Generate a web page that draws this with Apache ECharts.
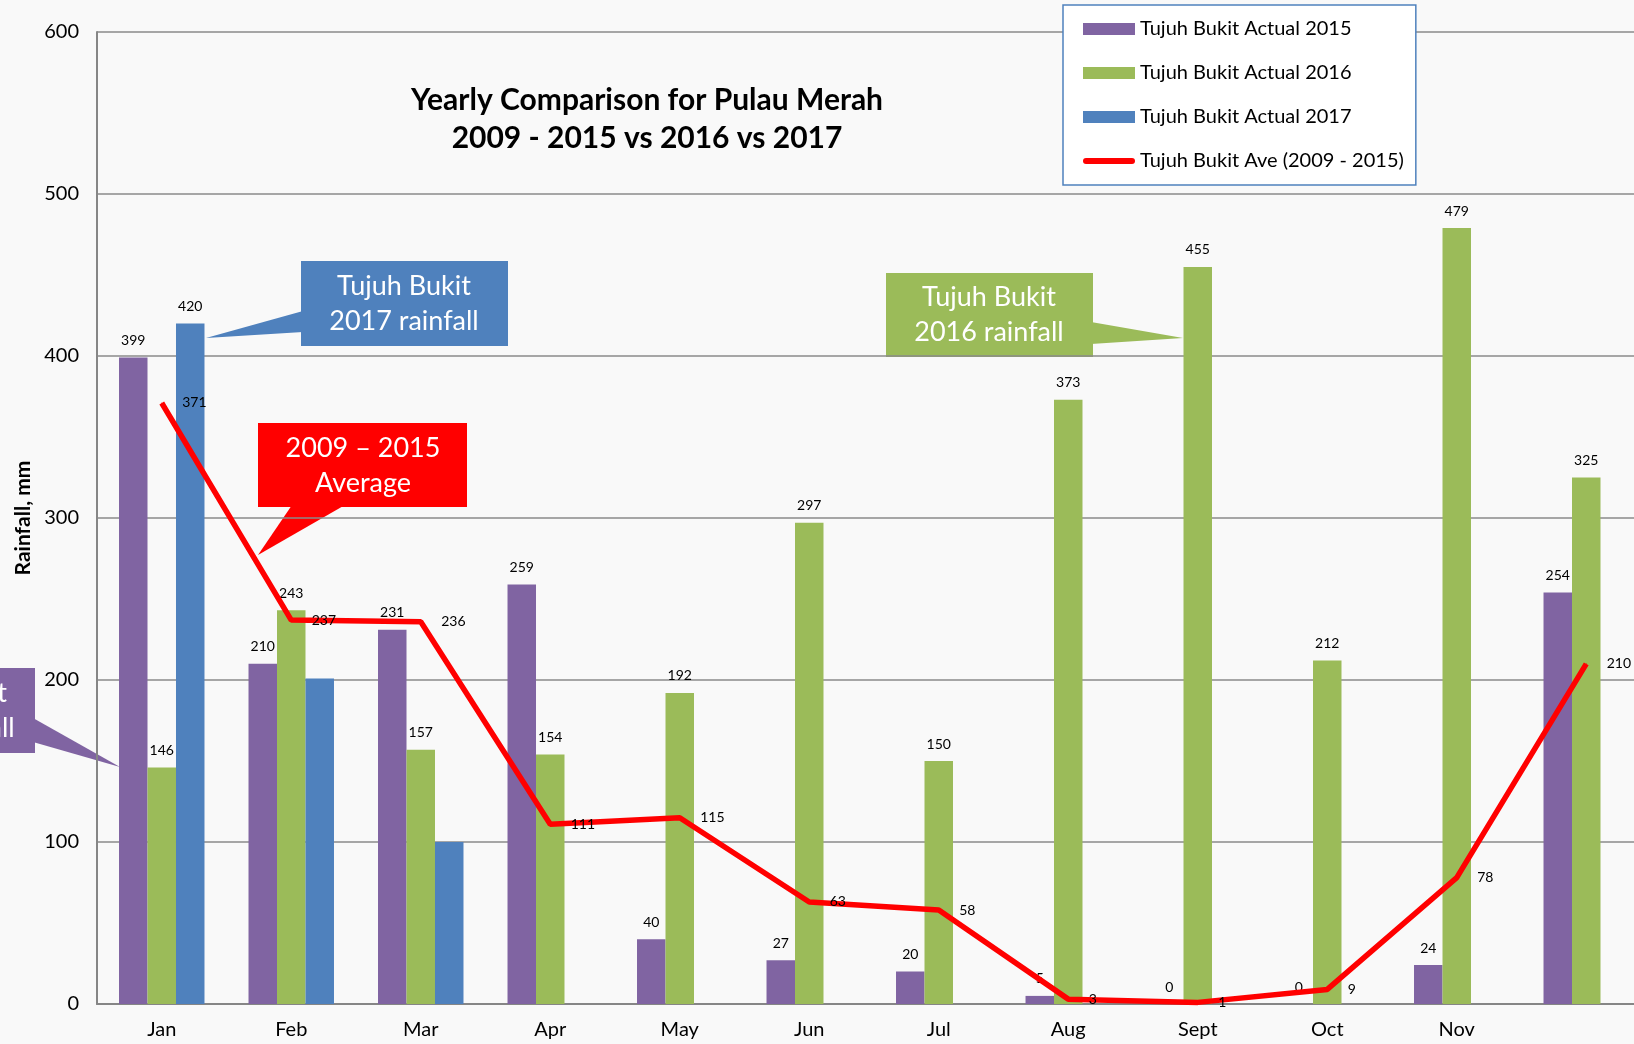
<!DOCTYPE html>
<html>
<head>
    <meta charset="utf-8">
    <title>Yearly Comparison for Pulau Merah</title>
    <script src="https://cdn.jsdelivr.net/npm/echarts@6/dist/echarts.min.js"></script>
    <style>
        html, body { margin: 0; padding: 0; background: #f9f9f9; }
    </style>
</head>
<body>
    <div id="main" style="width: 1634px;height:1044px;"></div>

    <script type="text/javascript">
        // data
        var months = ['Jan', 'Feb', 'Mar', 'Apr', 'May', 'Jun', 'Jul', 'Aug', 'Sept', 'Oct', 'Nov', 'Dec'];
        var actual2015 = [399, 210, 231, 259, 40, 27, 20, 5, 0, 0, 24, 254];
        var actual2016 = [146, 243, 157, 154, 192, 297, 150, 373, 455, 212, 479, 325];
        var actual2017 = [420, 201, 100, null, null, null, null, null, null, null, null, null];
        var label2017 = [true, false, false];
        var ave0915 = [371, 237, 236, 111, 115, 63, 58, 3, 1, 9, 78, 210];
        var yTicks = [0, 100, 200, 300, 400, 500, 600];

        var font = 'Lato, "Open Sans", sans-serif';
        var myChart = echarts.init(document.getElementById('main'));

        var barLabel = {
            show: true, position: 'top', distance: 10,
            color: '#000', fontSize: 14, fontFamily: font
        };

        // callout boxes (annotations)
        function callout(box, tri, color, lines, cx, cy) {
            return {
                type: 'group',
                children: [
                    { type: 'polygon', shape: { points: tri }, style: { fill: color } },
                    { type: 'rect', shape: box, style: { fill: color } },
                    {
                        type: 'text', x: cx, y: cy,
                        style: {
                            text: lines, fill: '#fff', font: '27px ' + font,
                            align: 'center', verticalAlign: 'middle', lineHeight: 35
                        }
                    }
                ]
            };
        }

        option = {
            backgroundColor: '#f9f9f9',
            title: {
                text: 'Yearly Comparison for Pulau Merah\n2009 - 2015 vs 2016 vs 2017',
                left: 642,
                top: 76,
                textAlign: 'center',
                textStyle: { fontFamily: font, fontSize: 30, fontWeight: 'bold', color: '#000', lineHeight: 38 }
            },
            legend: {
                orient: 'vertical',
                left: 1063,
                top: 5,
                padding: [14, 12, 14, 20],
                itemGap: 24,
                itemWidth: 52,
                itemHeight: 12,
                backgroundColor: '#fff',
                borderColor: '#4f81bd',
                borderWidth: 1.5,
                borderRadius: 0,
                textStyle: { fontFamily: font, fontSize: 20, color: '#000' },
                data: [
                    { name: 'Tujuh Bukit Actual 2015', icon: 'rect' },
                    { name: 'Tujuh Bukit Actual 2016', icon: 'rect' },
                    { name: 'Tujuh Bukit Actual 2017', icon: 'rect' },
                    { name: 'Tujuh Bukit Ave (2009 - 2015)', icon: 'path://M3,0 L49,0 A3,3 0 0 1 49,6 L3,6 A3,3 0 0 1 3,0 Z' }
                ]
            },
            grid: { left: 97, right: -17, top: 32, bottom: 40, outerBoundsMode: 'none' },
            xAxis: {
                type: 'category',
                data: months,
                axisLine: { lineStyle: { color: '#868686', width: 2 } },
                axisTick: { show: false },
                axisLabel: {
                    color: '#000', fontSize: 20, fontFamily: font, margin: 16,
                    interval: function (i) { return i < 11; }
                }
            },
            yAxis: {
                type: 'value',
                min: yTicks[0],
                max: yTicks[yTicks.length - 1],
                interval: 100,
                name: 'Rainfall, mm',
                nameLocation: 'middle',
                nameGap: 63,
                nameTextStyle: { color: '#000', fontSize: 21, fontWeight: 'bold', fontFamily: font },
                axisLine: { show: true, lineStyle: { color: '#868686', width: 2 } },
                axisTick: { show: false },
                axisLabel: { color: '#000', fontSize: 20, fontFamily: font, margin: 18 },
                splitLine: { lineStyle: { color: '#8a8a8a', width: 1.5 } }
            },
            graphic: [
                callout({ x: 301, y: 261, width: 207, height: 85 },
                    [[303, 311], [206, 338], [303, 332]], '#4f81bd', 'Tujuh Bukit\n2017 rainfall', 404, 304),
                callout({ x: 258, y: 423, width: 209, height: 84 },
                    [[292, 505], [258, 555], [345, 505]], '#ff0000', '2009 \u2013 2015\nAverage', 363, 466),
                callout({ x: 886, y: 273, width: 207, height: 84 },
                    [[1091, 322], [1183, 338], [1091, 344]], '#9bbb59', 'Tujuh Bukit\n2016 rainfall', 989, 315),
                callout({ x: -172, y: 668, width: 207, height: 85 },
                    [[33, 718], [120, 767], [33, 742]], '#8064a2', 'Tujuh Bukit\n2015 rainfall', -60, 711)
            ],
            series: [
                {
                    name: 'Tujuh Bukit Actual 2015',
                    type: 'bar',
                    barGap: '0%',
                    barCategoryGap: '34%',
                    itemStyle: { color: '#8064a2' },
                    label: barLabel,
                    data: actual2015
                },
                {
                    name: 'Tujuh Bukit Actual 2016',
                    type: 'bar',
                    itemStyle: { color: '#9bbb59' },
                    label: barLabel,
                    data: actual2016
                },
                {
                    name: 'Tujuh Bukit Actual 2017',
                    type: 'bar',
                    itemStyle: { color: '#4f81bd' },
                    label: barLabel,
                    data: actual2017.map(function (v, i) {
                        return { value: v, label: { show: !!label2017[i] } };
                    })
                },
                {
                    name: 'Tujuh Bukit Ave (2009 - 2015)',
                    type: 'line',
                    symbol: 'circle',
                    symbolSize: 1,
                    showSymbol: true,
                    z: 5,
                    lineStyle: { color: '#ff0000', width: 5.5 },
                    itemStyle: { color: '#ff0000' },
                    label: {
                        show: true, position: 'right', distance: 20,
                        color: '#000', fontSize: 14, fontFamily: font
                    },
                    data: ave0915
                }
            ]
        };

        myChart.setOption(option);
    </script>
</body>
</html>
